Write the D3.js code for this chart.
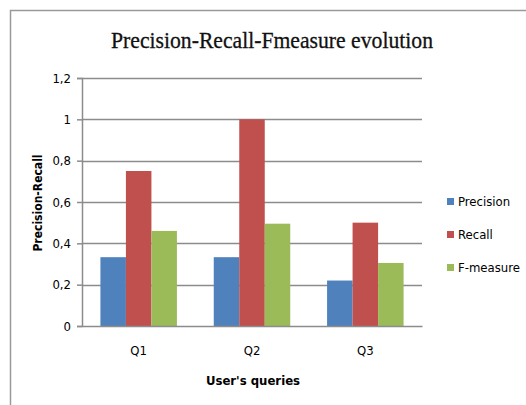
<!DOCTYPE html>
<html>
<head>
<meta charset="utf-8">
<script src="https://cdn.jsdelivr.net/npm/d3@7"></script>
<style>
  body { margin: 0; background: #fff; }
  text { fill: #000; }
</style>
</head>
<body>
<div id="graph"></div>
<script>
// data
var queries = ["Q1", "Q2", "Q3"];
var seriesNames = ["Precision", "Recall", "F-measure"];
var precision = [0.333, 0.333, 0.22];
var recall = [0.75, 1, 0.5];
var fmeasure = [0.46, 0.495, 0.305];
var yTicks = [0, 0.2, 0.4, 0.6, 0.8, 1, 1.2];
var colors = ["#4F81BD", "#C0504D", "#9BBB59"];

var series = [precision, recall, fmeasure];

var W = 526, H = 405;
var margin = {top: 78, right: 104, bottom: 79, left: 82},
    width = W - margin.left - margin.right,
    height = H - margin.top - margin.bottom;

var svg = d3.select("#graph").append("svg")
    .attr("width", W)
    .attr("height", H);

// outer frame (cut by the window on right and bottom)
svg.append("rect")
    .attr("x", 10.5).attr("y", 10.5)
    .attr("width", 540).attr("height", 420)
    .attr("fill", "none")
    .attr("stroke", "#9a9a9a")
    .attr("stroke-width", 1.5);

var title = svg.append("text")
    .attr("x", 272).attr("y", 48)
    .attr("text-anchor", "middle")
    .style("font-family", "'Liberation Serif', 'DejaVu Serif', serif")
    .style("font-size", "24px")
    .style("fill", "#111")
    .style("stroke", "#111")
    .style("stroke-width", "0.3px")
    .text("Precision-Recall-Fmeasure evolution");
title.attr("textLength", 322).attr("lengthAdjust", "spacingAndGlyphs");

var g = svg.append("g")
    .attr("transform", "translate(" + margin.left + "," + margin.top + ")");

var x0 = d3.scaleBand().domain(queries).range([0, width]).paddingInner(0.325).paddingOuter(0.1625);
var x1 = d3.scaleBand().domain(seriesNames).range([0, x0.bandwidth()]);
var y = d3.scaleLinear().domain([0, 1.2]).range([height, 0]);

var font = "'DejaVu Sans Condensed', 'DejaVu Sans', sans-serif";

// gridlines
g.append("g")
  .selectAll("line")
  .data(yTicks.slice(1))
  .enter().append("line")
    .attr("x1", 0).attr("x2", width)
    .attr("y1", function(d) { return Math.round(y(d)) + 0.5; })
    .attr("y2", function(d) { return Math.round(y(d)) + 0.5; })
    .attr("stroke", "#8c8c8c")
    .attr("stroke-width", 1.5);

// bars
var groups = g.selectAll(".grp")
    .data(queries)
    .enter().append("g")
    .attr("transform", function(d) { return "translate(" + x0(d) + ",0)"; });

groups.selectAll("rect")
    .data(function(d, i) {
        return seriesNames.map(function(s, j) { return {name: s, value: series[j][i], j: j}; });
    })
    .enter().append("rect")
    .attr("x", function(d) { return x1(d.name); })
    .attr("y", function(d) { return y(d.value); })
    .attr("width", x1.bandwidth())
    .attr("height", function(d) { return y(0) - y(d.value); })
    .attr("fill", function(d) { return colors[d.j]; });

// y axis
var yAxis = g.append("g")
    .call(d3.axisLeft(y).tickValues(yTicks).tickSize(5).tickPadding(6)
        .tickFormat(function(d) { return d3.format("~g")(d).replace(".", ","); }));
yAxis.select(".domain").attr("stroke", "#8c8c8c").attr("stroke-width", 1.5);
yAxis.selectAll(".tick line").attr("stroke", "#8c8c8c").attr("stroke-width", 1.5);
yAxis.selectAll("text")
    .style("font-family", font)
    .style("font-size", "13px")
    .style("fill", "#000");

// x axis
var xAxis = g.append("g")
    .attr("transform", "translate(0," + height + ")")
    .call(d3.axisBottom(x0).tickSize(0).tickPadding(20));
xAxis.select(".domain").attr("stroke", "#8c8c8c").attr("stroke-width", 1.5);
xAxis.selectAll("text")
    .style("font-family", font)
    .style("font-size", "13px")
    .style("fill", "#000");

// axis titles
svg.append("text")
    .attr("x", 253).attr("y", 385)
    .attr("text-anchor", "middle")
    .style("font-family", font)
    .style("font-size", "13px")
    .style("font-weight", "bold")
    .text("User's queries");

svg.append("text")
    .attr("transform", "translate(42,203) rotate(-90)")
    .attr("text-anchor", "middle")
    .style("font-family", font)
    .style("font-size", "12px")
    .style("font-weight", "bold")
    .text("Precision-Recall");

// legend
var legend = svg.append("g")
    .selectAll("g")
    .data(seriesNames)
    .enter().append("g")
    .attr("transform", function(d, i) { return "translate(447," + (198 + i * 33) + ")"; });
legend.append("rect")
    .attr("width", 7).attr("height", 7)
    .attr("fill", function(d, i) { return colors[i]; });
legend.append("text")
    .attr("x", 11).attr("y", 8)
    .style("font-family", font)
    .style("font-size", "13px")
    .style("fill", "#000")
    .text(function(d) { return d; });
</script>
</body>
</html>
